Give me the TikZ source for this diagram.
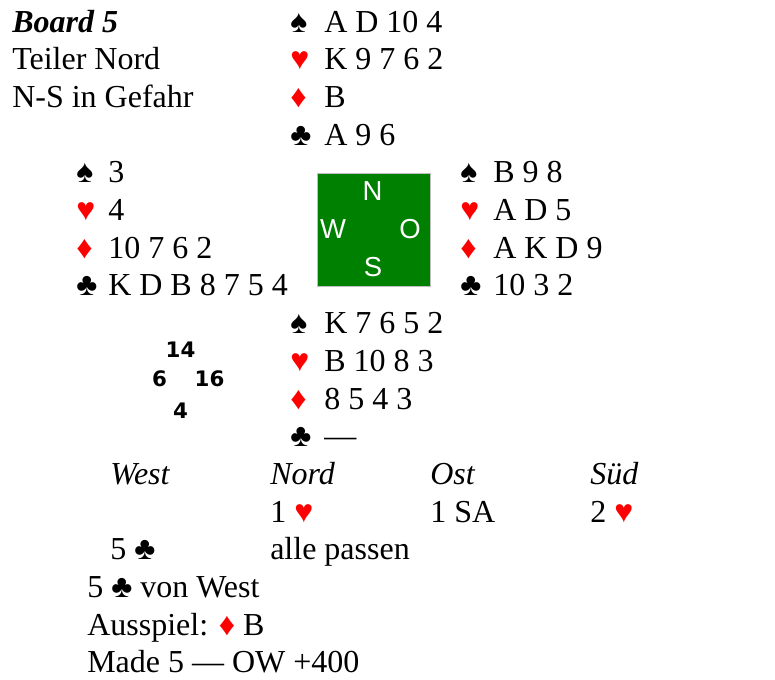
\documentclass[tikz,border=0pt]{standalone}
\usepackage{fontspec}
\setmainfont{Liberation Serif}
\newfontfamily\arialfont{Liberation Sans}
\newfontfamily\hcpfont{DejaVu Sans}
\definecolor{suitred}{RGB}{255,0,0}
\definecolor{tablegreen}{RGB}{0,128,0}
\definecolor{boxgray}{RGB}{190,190,190}
\newcommand\spd{♠}
\newcommand\hrt{{\color{suitred}♥}}
\newcommand\dia{{\color{suitred}♦}}
\newcommand\clb{♣}
\begin{document}
\begin{tikzpicture}[x=0.75pt,y=-0.75pt,
  txt/.style={anchor=base west,inner sep=0pt,font=\fontsize{24pt}{28pt}\selectfont},
  hcp/.style={anchor=center,inner sep=0pt,font=\hcpfont\bfseries\fontsize{16pt}{18pt}\selectfont},
  compass/.style={anchor=center,inner sep=0pt,text=white,font=\arialfont\fontsize{20.6pt}{24pt}\selectfont},
  tablebox/.style={fill=tablegreen,draw=boxgray,line width=0.75pt,minimum width=84.75pt,minimum height=84.75pt,inner sep=0pt}]
\useasboundingbox (0,0) rectangle (775,679);
% header
\node[txt] (board) at (12,32) {\textbf{\textit{Board 5}}};
\node[txt] (dealer) at (12,69.7) {Teiler Nord};
\node[txt] (vul) at (12,107.4) {N-S in Gefahr};
% North
\node[txt] (ns) at (290,32) {\spd};
\node[txt] (nst) at (324,32) {A D 10 4};
\node[txt] (nh) at (290,69.7) {\hrt};
\node[txt] (nht) at (324,69.7) {K 9 7 6 2};
\node[txt] (nd) at (290,107.4) {\dia};
\node[txt] (ndt) at (324,107.4) {B};
\node[txt] (nc) at (290,145.1) {\clb};
\node[txt] (nct) at (324,145.1) {A 9 6};
% West
\node[txt] (ws) at (76,182.8) {\spd};
\node[txt] (wst) at (108,182.8) {3};
\node[txt] (wh) at (76,220.5) {\hrt};
\node[txt] (wht) at (108,220.5) {4};
\node[txt] (wd) at (76,258.2) {\dia};
\node[txt] (wdt) at (108,258.2) {10 7 6 2};
\node[txt] (wc) at (76,295.9) {\clb};
\node[txt] (wct) at (108,295.9) {K D B 8 7 5 4};
% East
\node[txt] (es) at (460,182.8) {\spd};
\node[txt] (est) at (493,182.8) {B 9 8};
\node[txt] (eh) at (460,220.5) {\hrt};
\node[txt] (eht) at (493,220.5) {A D 5};
\node[txt] (ed) at (460,258.2) {\dia};
\node[txt] (edt) at (493,258.2) {A K D 9};
\node[txt] (ec) at (460,295.9) {\clb};
\node[txt] (ect) at (493,295.9) {10 3 2};
% table
\node[tablebox] (table) at (373.5,230) {};
\node[compass] (cn) at (372.5,191) {N};
\node[compass] (cw) at (333,229) {W};
\node[compass] (co) at (410,229) {O};
\node[compass] (cs) at (373,267.5) {S};
% South
\node[txt] (ss) at (290,333.6) {\spd};
\node[txt] (sst) at (324,333.6) {K 7 6 5 2};
\node[txt] (sh) at (290,371.3) {\hrt};
\node[txt] (sht) at (324,371.3) {B 10 8 3};
\node[txt] (sd) at (290,409) {\dia};
\node[txt] (sdt) at (324,409) {8 5 4 3};
\node[txt] (sc) at (290,446.7) {\clb};
\node[txt] (sct) at (324,446.7) {—};
% HCP
\node[hcp] (hn) at (180.5,349.5) {14};
\node[hcp] (hw) at (159.5,379) {6};
\node[hcp] (he) at (209.5,379) {16};
\node[hcp] (hs) at (180.5,411) {4};
% bidding
\node[txt] (bw) at (110,484.4) {\textit{West}};
\node[txt] (bn) at (270,484.4) {\textit{Nord}};
\node[txt] (bo) at (430,484.4) {\textit{Ost}};
\node[txt] (bs) at (590,484.4) {\textit{Süd}};
\node[txt] (b1) at (270,522.1) {1 \hrt};
\node[txt] (b2) at (430,522.1) {1 SA};
\node[txt] (b3) at (590,522.1) {2 \hrt};
\node[txt] (b4) at (110,559.8) {5 \clb};
\node[txt] (b5) at (270,559.8) {alle passen};
% result
\node[txt] (contract) at (87,597.5) {5 \clb{} von West};
\node[txt] (lead) at (87,635.2) {Ausspiel: \dia{} B};
\node[txt] (made) at (87,672.9) {Made 5 — OW +400};
\end{tikzpicture}
\end{document}
